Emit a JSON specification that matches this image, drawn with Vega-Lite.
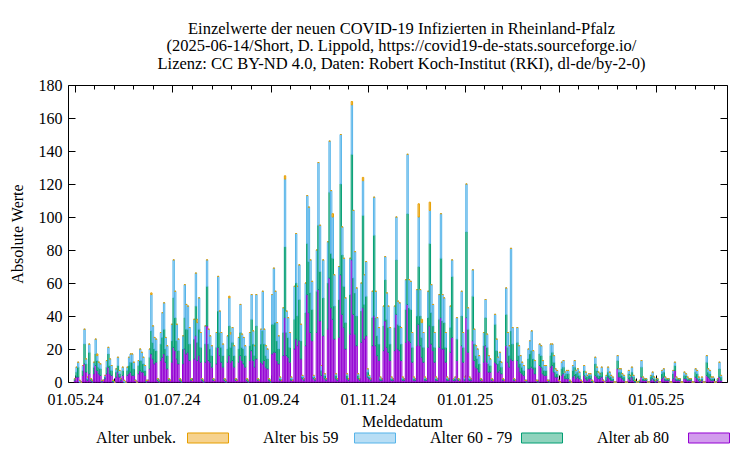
{
"$schema":"https://vega.github.io/schema/vega-lite/v6.json",
"width":659,"height":297,
"autosize":{"type":"none"},
"padding":{"left":68,"top":85,"right":23,"bottom":68},
"background":"white",
"config":{"font":"Liberation Serif","view":{"stroke":"black","strokeWidth":1},
"axis":{"labelFont":"Liberation Serif","titleFont":"Liberation Serif","labelFontSize":16,"titleFontSize":16,"titleFontWeight":"normal","labelColor":"black","titleColor":"black","tickColor":"black","grid":false,"domain":false}},
"title":{"text":["Einzelwerte der neuen COVID-19 Infizierten in Rheinland-Pfalz","(2025-06-14/Short, D. Lippold, https://covid19-de-stats.sourceforge.io/","Lizenz: CC BY-ND 4.0, Daten: Robert Koch-Institut (RKI), dl-de/by-2-0)"],"fontSize":16.5,"fontWeight":"normal","font":"Liberation Serif","anchor":"middle","frame":"group","offset":5,"lineHeight":17.5,"color":"black","dx":4},
"data":{"values":[
{"d":"2024-05-01","k1":1,"k2":1,"k3":0,"k4":0},
{"d":"2024-05-02","k1":3,"k2":3,"k3":3,"k4":0},
{"d":"2024-05-03","k1":3,"k2":6,"k3":3,"k4":0},
{"d":"2024-05-04","k1":0,"k2":0,"k3":1,"k4":0},
{"d":"2024-05-05","k1":0,"k2":0,"k3":0,"k4":0},
{"d":"2024-05-06","k1":4,"k2":3,"k3":3,"k4":0},
{"d":"2024-05-07","k1":11,"k2":12,"k3":9,"k4":0},
{"d":"2024-05-08","k1":6,"k2":5,"k3":3,"k4":0},
{"d":"2024-05-09","k1":1,"k2":1,"k3":1,"k4":0},
{"d":"2024-05-10","k1":5,"k2":13,"k3":5,"k4":0},
{"d":"2024-05-11","k1":1,"k2":1,"k3":0,"k4":0},
{"d":"2024-05-12","k1":0,"k2":1,"k3":0,"k4":0},
{"d":"2024-05-13","k1":5,"k2":4,"k3":3,"k4":0},
{"d":"2024-05-14","k1":10,"k2":7,"k3":9,"k4":0},
{"d":"2024-05-15","k1":7,"k2":6,"k3":3,"k4":1},
{"d":"2024-05-16","k1":5,"k2":4,"k3":3,"k4":0},
{"d":"2024-05-17","k1":4,"k2":4,"k3":3,"k4":0},
{"d":"2024-05-18","k1":0,"k2":1,"k3":0,"k4":0},
{"d":"2024-05-19","k1":1,"k2":0,"k3":0,"k4":0},
{"d":"2024-05-20","k1":2,"k2":1,"k3":1,"k4":0},
{"d":"2024-05-21","k1":5,"k2":4,"k3":4,"k4":0},
{"d":"2024-05-22","k1":9,"k2":8,"k3":4,"k4":0},
{"d":"2024-05-23","k1":5,"k2":5,"k3":4,"k4":0},
{"d":"2024-05-24","k1":4,"k2":3,"k3":3,"k4":0},
{"d":"2024-05-25","k1":0,"k2":1,"k3":0,"k4":0},
{"d":"2024-05-26","k1":0,"k2":0,"k3":0,"k4":0},
{"d":"2024-05-27","k1":3,"k2":3,"k3":2,"k4":0},
{"d":"2024-05-28","k1":6,"k2":4,"k3":5,"k4":0},
{"d":"2024-05-29","k1":3,"k2":2,"k3":2,"k4":0},
{"d":"2024-05-30","k1":1,"k2":1,"k3":0,"k4":0},
{"d":"2024-05-31","k1":4,"k2":3,"k3":2,"k4":0},
{"d":"2024-06-01","k1":0,"k2":0,"k3":1,"k4":0},
{"d":"2024-06-02","k1":0,"k2":0,"k3":0,"k4":0},
{"d":"2024-06-03","k1":4,"k2":3,"k3":2,"k4":0},
{"d":"2024-06-04","k1":5,"k2":5,"k3":5,"k4":0},
{"d":"2024-06-05","k1":6,"k2":6,"k3":5,"k4":0},
{"d":"2024-06-06","k1":4,"k2":8,"k3":5,"k4":0},
{"d":"2024-06-07","k1":4,"k2":4,"k3":4,"k4":0},
{"d":"2024-06-08","k1":1,"k2":0,"k3":0,"k4":0},
{"d":"2024-06-09","k1":0,"k2":0,"k3":0,"k4":0},
{"d":"2024-06-10","k1":5,"k2":5,"k3":3,"k4":0},
{"d":"2024-06-11","k1":7,"k2":6,"k3":7,"k4":0},
{"d":"2024-06-12","k1":6,"k2":7,"k3":5,"k4":0},
{"d":"2024-06-13","k1":6,"k2":5,"k3":4,"k4":0},
{"d":"2024-06-14","k1":4,"k2":3,"k3":3,"k4":0},
{"d":"2024-06-15","k1":0,"k2":1,"k3":0,"k4":0},
{"d":"2024-06-16","k1":1,"k2":0,"k3":0,"k4":0},
{"d":"2024-06-17","k1":8,"k2":7,"k3":5,"k4":0},
{"d":"2024-06-18","k1":17,"k2":14,"k3":22,"k4":1},
{"d":"2024-06-19","k1":14,"k2":10,"k3":10,"k4":0},
{"d":"2024-06-20","k1":11,"k2":9,"k3":7,"k4":0},
{"d":"2024-06-21","k1":12,"k2":7,"k3":7,"k4":0},
{"d":"2024-06-22","k1":1,"k2":1,"k3":0,"k4":0},
{"d":"2024-06-23","k1":0,"k2":1,"k3":0,"k4":0},
{"d":"2024-06-24","k1":13,"k2":10,"k3":7,"k4":0},
{"d":"2024-06-25","k1":15,"k2":12,"k3":15,"k4":0},
{"d":"2024-06-26","k1":17,"k2":15,"k3":16,"k4":0},
{"d":"2024-06-27","k1":12,"k2":8,"k3":7,"k4":0},
{"d":"2024-06-28","k1":8,"k2":8,"k3":6,"k4":0},
{"d":"2024-06-29","k1":1,"k2":1,"k3":0,"k4":0},
{"d":"2024-06-30","k1":1,"k2":0,"k3":0,"k4":0},
{"d":"2024-07-01","k1":12,"k2":13,"k3":10,"k4":0},
{"d":"2024-07-02","k1":21,"k2":30,"k3":23,"k4":0},
{"d":"2024-07-03","k1":19,"k2":20,"k3":16,"k4":0},
{"d":"2024-07-04","k1":14,"k2":11,"k3":10,"k4":0},
{"d":"2024-07-05","k1":11,"k2":8,"k3":7,"k4":0},
{"d":"2024-07-06","k1":1,"k2":1,"k3":0,"k4":0},
{"d":"2024-07-07","k1":0,"k2":1,"k3":0,"k4":0},
{"d":"2024-07-08","k1":11,"k2":9,"k3":8,"k4":0},
{"d":"2024-07-09","k1":20,"k2":19,"k3":20,"k4":0},
{"d":"2024-07-10","k1":17,"k2":15,"k3":15,"k4":0},
{"d":"2024-07-11","k1":18,"k2":14,"k3":14,"k4":0},
{"d":"2024-07-12","k1":13,"k2":10,"k3":10,"k4":0},
{"d":"2024-07-13","k1":1,"k2":1,"k3":0,"k4":0},
{"d":"2024-07-14","k1":1,"k2":0,"k3":0,"k4":0},
{"d":"2024-07-15","k1":14,"k2":12,"k3":12,"k4":0},
{"d":"2024-07-16","k1":28,"k2":18,"k3":20,"k4":0},
{"d":"2024-07-17","k1":13,"k2":11,"k3":12,"k4":2},
{"d":"2024-07-18","k1":16,"k2":16,"k3":19,"k4":0},
{"d":"2024-07-19","k1":12,"k2":9,"k3":9,"k4":0},
{"d":"2024-07-20","k1":1,"k2":1,"k3":0,"k4":0},
{"d":"2024-07-21","k1":0,"k2":1,"k3":0,"k4":0},
{"d":"2024-07-22","k1":12,"k2":11,"k3":11,"k4":0},
{"d":"2024-07-23","k1":34,"k2":24,"k3":16,"k4":0},
{"d":"2024-07-24","k1":13,"k2":10,"k3":9,"k4":0},
{"d":"2024-07-25","k1":12,"k2":8,"k3":8,"k4":0},
{"d":"2024-07-26","k1":9,"k2":7,"k3":6,"k4":0},
{"d":"2024-07-27","k1":1,"k2":1,"k3":0,"k4":0},
{"d":"2024-07-28","k1":1,"k2":0,"k3":0,"k4":0},
{"d":"2024-07-29","k1":11,"k2":10,"k3":9,"k4":0},
{"d":"2024-07-30","k1":21,"k2":22,"k3":21,"k4":0},
{"d":"2024-07-31","k1":16,"k2":14,"k3":13,"k4":0},
{"d":"2024-08-01","k1":12,"k2":9,"k3":9,"k4":0},
{"d":"2024-08-02","k1":9,"k2":7,"k3":7,"k4":0},
{"d":"2024-08-03","k1":1,"k2":1,"k3":0,"k4":0},
{"d":"2024-08-04","k1":0,"k2":1,"k3":0,"k4":0},
{"d":"2024-08-05","k1":12,"k2":8,"k3":8,"k4":0},
{"d":"2024-08-06","k1":16,"k2":18,"k3":17,"k4":1},
{"d":"2024-08-07","k1":12,"k2":9,"k3":8,"k4":1},
{"d":"2024-08-08","k1":13,"k2":11,"k3":9,"k4":0},
{"d":"2024-08-09","k1":9,"k2":7,"k3":6,"k4":0},
{"d":"2024-08-10","k1":1,"k2":1,"k3":0,"k4":0},
{"d":"2024-08-11","k1":1,"k2":0,"k3":0,"k4":0},
{"d":"2024-08-12","k1":12,"k2":8,"k3":7,"k4":0},
{"d":"2024-08-13","k1":16,"k2":14,"k3":17,"k4":0},
{"d":"2024-08-14","k1":13,"k2":8,"k3":8,"k4":0},
{"d":"2024-08-15","k1":11,"k2":9,"k3":7,"k4":0},
{"d":"2024-08-16","k1":9,"k2":7,"k3":6,"k4":0},
{"d":"2024-08-17","k1":1,"k2":1,"k3":0,"k4":0},
{"d":"2024-08-18","k1":0,"k2":1,"k3":0,"k4":0},
{"d":"2024-08-19","k1":13,"k2":9,"k3":8,"k4":0},
{"d":"2024-08-20","k1":19,"k2":19,"k3":15,"k4":0},
{"d":"2024-08-21","k1":13,"k2":10,"k3":8,"k4":0},
{"d":"2024-08-22","k1":9,"k2":7,"k3":6,"k4":0},
{"d":"2024-08-23","k1":14,"k2":20,"k3":19,"k4":0},
{"d":"2024-08-24","k1":1,"k2":1,"k3":0,"k4":0},
{"d":"2024-08-25","k1":1,"k2":0,"k3":0,"k4":0},
{"d":"2024-08-26","k1":12,"k2":11,"k3":9,"k4":0},
{"d":"2024-08-27","k1":11,"k2":20,"k3":24,"k4":0},
{"d":"2024-08-28","k1":13,"k2":10,"k3":9,"k4":0},
{"d":"2024-08-29","k1":9,"k2":7,"k3":6,"k4":0},
{"d":"2024-08-30","k1":8,"k2":6,"k3":6,"k4":0},
{"d":"2024-08-31","k1":1,"k2":1,"k3":0,"k4":0},
{"d":"2024-09-01","k1":0,"k2":1,"k3":0,"k4":0},
{"d":"2024-09-02","k1":17,"k2":18,"k3":18,"k4":0},
{"d":"2024-09-03","k1":18,"k2":17,"k3":34,"k4":0},
{"d":"2024-09-04","k1":18,"k2":18,"k3":19,"k4":0},
{"d":"2024-09-05","k1":13,"k2":12,"k3":11,"k4":0},
{"d":"2024-09-06","k1":11,"k2":9,"k3":8,"k4":0},
{"d":"2024-09-07","k1":1,"k2":1,"k3":1,"k4":0},
{"d":"2024-09-08","k1":1,"k2":0,"k3":0,"k4":0},
{"d":"2024-09-09","k1":16,"k2":14,"k3":15,"k4":0},
{"d":"2024-09-10","k1":39,"k2":43,"k3":41,"k4":2},
{"d":"2024-09-11","k1":16,"k2":14,"k3":13,"k4":0},
{"d":"2024-09-12","k1":15,"k2":12,"k3":12,"k4":0},
{"d":"2024-09-13","k1":12,"k2":9,"k3":9,"k4":0},
{"d":"2024-09-14","k1":1,"k2":1,"k3":1,"k4":0},
{"d":"2024-09-15","k1":1,"k2":0,"k3":0,"k4":0},
{"d":"2024-09-16","k1":20,"k2":18,"k3":20,"k4":0},
{"d":"2024-09-17","k1":26,"k2":34,"k3":30,"k4":0},
{"d":"2024-09-18","k1":22,"k2":18,"k3":18,"k4":0},
{"d":"2024-09-19","k1":25,"k2":25,"k3":21,"k4":0},
{"d":"2024-09-20","k1":14,"k2":11,"k3":10,"k4":0},
{"d":"2024-09-21","k1":2,"k2":1,"k3":1,"k4":0},
{"d":"2024-09-22","k1":1,"k2":1,"k3":0,"k4":0},
{"d":"2024-09-23","k1":22,"k2":20,"k3":18,"k4":0},
{"d":"2024-09-24","k1":53,"k2":31,"k3":29,"k4":0},
{"d":"2024-09-25","k1":42,"k2":31,"k3":33,"k4":0},
{"d":"2024-09-26","k1":30,"k2":24,"k3":20,"k4":0},
{"d":"2024-09-27","k1":25,"k2":19,"k3":17,"k4":0},
{"d":"2024-09-28","k1":2,"k2":1,"k3":1,"k4":0},
{"d":"2024-09-29","k1":1,"k2":1,"k3":0,"k4":0},
{"d":"2024-09-30","k1":30,"k2":25,"k3":25,"k4":0},
{"d":"2024-10-01","k1":56,"k2":39,"k3":38,"k4":0},
{"d":"2024-10-02","k1":37,"k2":30,"k3":28,"k4":0},
{"d":"2024-10-03","k1":4,"k2":3,"k3":3,"k4":0},
{"d":"2024-10-04","k1":28,"k2":23,"k3":23,"k4":0},
{"d":"2024-10-05","k1":2,"k2":2,"k3":1,"k4":0},
{"d":"2024-10-06","k1":1,"k2":1,"k3":0,"k4":0},
{"d":"2024-10-07","k1":32,"k2":28,"k3":25,"k4":0},
{"d":"2024-10-08","k1":63,"k2":52,"k3":31,"k4":0},
{"d":"2024-10-09","k1":45,"k2":33,"k3":38,"k4":0},
{"d":"2024-10-10","k1":38,"k2":37,"k3":25,"k4":2},
{"d":"2024-10-11","k1":26,"k2":20,"k3":19,"k4":0},
{"d":"2024-10-12","k1":2,"k2":2,"k3":1,"k4":0},
{"d":"2024-10-13","k1":1,"k2":1,"k3":0,"k4":0},
{"d":"2024-10-14","k1":27,"k2":23,"k3":20,"k4":0},
{"d":"2024-10-15","k1":65,"k2":55,"k3":30,"k4":0},
{"d":"2024-10-16","k1":41,"k2":36,"k3":17,"k4":0},
{"d":"2024-10-17","k1":33,"k2":25,"k3":17,"k4":0},
{"d":"2024-10-18","k1":20,"k2":16,"k3":15,"k4":0},
{"d":"2024-10-19","k1":2,"k2":2,"k3":1,"k4":0},
{"d":"2024-10-20","k1":1,"k2":1,"k3":0,"k4":0},
{"d":"2024-10-21","k1":29,"k2":24,"k3":22,"k4":0},
{"d":"2024-10-22","k1":74,"k2":64,"k3":30,"k4":2},
{"d":"2024-10-23","k1":41,"k2":22,"k3":41,"k4":0},
{"d":"2024-10-24","k1":29,"k2":25,"k3":25,"k4":0},
{"d":"2024-10-25","k1":22,"k2":18,"k3":17,"k4":0},
{"d":"2024-10-26","k1":2,"k2":2,"k3":1,"k4":0},
{"d":"2024-10-27","k1":1,"k2":1,"k3":0,"k4":0},
{"d":"2024-10-28","k1":24,"k2":19,"k3":17,"k4":0},
{"d":"2024-10-29","k1":45,"k2":56,"k3":21,"k4":2},
{"d":"2024-10-30","k1":26,"k2":21,"k3":18,"k4":0},
{"d":"2024-10-31","k1":28,"k2":24,"k3":21,"k4":0},
{"d":"2024-11-01","k1":3,"k2":3,"k3":2,"k4":0},
{"d":"2024-11-02","k1":2,"k2":1,"k3":1,"k4":0},
{"d":"2024-11-03","k1":1,"k2":1,"k3":0,"k4":0},
{"d":"2024-11-04","k1":22,"k2":17,"k3":16,"k4":0},
{"d":"2024-11-05","k1":40,"k2":49,"k3":23,"k4":0},
{"d":"2024-11-06","k1":22,"k2":17,"k3":16,"k4":0},
{"d":"2024-11-07","k1":16,"k2":12,"k3":11,"k4":0},
{"d":"2024-11-08","k1":13,"k2":10,"k3":10,"k4":0},
{"d":"2024-11-09","k1":1,"k2":1,"k3":1,"k4":0},
{"d":"2024-11-10","k1":1,"k2":1,"k3":0,"k4":0},
{"d":"2024-11-11","k1":19,"k2":15,"k3":12,"k4":0},
{"d":"2024-11-12","k1":37,"k2":25,"k3":14,"k4":0},
{"d":"2024-11-13","k1":21,"k2":17,"k3":16,"k4":0},
{"d":"2024-11-14","k1":18,"k2":15,"k3":13,"k4":0},
{"d":"2024-11-15","k1":13,"k2":10,"k3":10,"k4":0},
{"d":"2024-11-16","k1":1,"k2":1,"k3":1,"k4":0},
{"d":"2024-11-17","k1":1,"k2":1,"k3":0,"k4":0},
{"d":"2024-11-18","k1":19,"k2":14,"k3":13,"k4":0},
{"d":"2024-11-19","k1":41,"k2":33,"k3":26,"k4":0},
{"d":"2024-11-20","k1":20,"k2":15,"k3":14,"k4":0},
{"d":"2024-11-21","k1":19,"k2":15,"k3":14,"k4":0},
{"d":"2024-11-22","k1":13,"k2":10,"k3":10,"k4":0},
{"d":"2024-11-23","k1":1,"k2":1,"k3":1,"k4":0},
{"d":"2024-11-24","k1":1,"k2":1,"k3":0,"k4":0},
{"d":"2024-11-25","k1":24,"k2":20,"k3":18,"k4":0},
{"d":"2024-11-26","k1":47,"k2":55,"k3":36,"k4":0},
{"d":"2024-11-27","k1":25,"k2":20,"k3":17,"k4":0},
{"d":"2024-11-28","k1":24,"k2":20,"k3":17,"k4":0},
{"d":"2024-11-29","k1":12,"k2":9,"k3":9,"k4":0},
{"d":"2024-11-30","k1":1,"k2":1,"k3":1,"k4":0},
{"d":"2024-12-01","k1":1,"k2":1,"k3":0,"k4":0},
{"d":"2024-12-02","k1":22,"k2":18,"k3":16,"k4":0},
{"d":"2024-12-03","k1":35,"k2":35,"k3":30,"k4":8},
{"d":"2024-12-04","k1":22,"k2":18,"k3":16,"k4":0},
{"d":"2024-12-05","k1":15,"k2":12,"k3":9,"k4":2},
{"d":"2024-12-06","k1":12,"k2":9,"k3":9,"k4":0},
{"d":"2024-12-07","k1":1,"k2":1,"k3":1,"k4":0},
{"d":"2024-12-08","k1":1,"k2":1,"k3":0,"k4":0},
{"d":"2024-12-09","k1":21,"k2":18,"k3":16,"k4":0},
{"d":"2024-12-10","k1":34,"k2":50,"k3":20,"k4":5},
{"d":"2024-12-11","k1":23,"k2":19,"k3":17,"k4":0},
{"d":"2024-12-12","k1":19,"k2":15,"k3":13,"k4":0},
{"d":"2024-12-13","k1":12,"k2":9,"k3":9,"k4":0},
{"d":"2024-12-14","k1":1,"k2":1,"k3":1,"k4":0},
{"d":"2024-12-15","k1":1,"k2":1,"k3":0,"k4":0},
{"d":"2024-12-16","k1":21,"k2":17,"k3":15,"k4":0},
{"d":"2024-12-17","k1":39,"k2":36,"k3":27,"k4":0},
{"d":"2024-12-18","k1":20,"k2":17,"k3":16,"k4":0},
{"d":"2024-12-19","k1":20,"k2":16,"k3":15,"k4":0},
{"d":"2024-12-20","k1":12,"k2":9,"k3":9,"k4":0},
{"d":"2024-12-21","k1":1,"k2":1,"k3":1,"k4":0},
{"d":"2024-12-22","k1":1,"k2":1,"k3":0,"k4":0},
{"d":"2024-12-23","k1":18,"k2":15,"k3":13,"k4":0},
{"d":"2024-12-24","k1":27,"k2":37,"k3":10,"k4":0},
{"d":"2024-12-25","k1":1,"k2":1,"k3":0,"k4":0},
{"d":"2024-12-26","k1":1,"k2":1,"k3":1,"k4":0},
{"d":"2024-12-27","k1":13,"k2":13,"k3":13,"k4":0},
{"d":"2024-12-28","k1":1,"k2":1,"k3":0,"k4":0},
{"d":"2024-12-29","k1":1,"k2":0,"k3":0,"k4":0},
{"d":"2024-12-30","k1":22,"k2":18,"k3":15,"k4":0},
{"d":"2024-12-31","k1":12,"k2":9,"k3":9,"k4":0},
{"d":"2025-01-01","k1":1,"k2":1,"k3":1,"k4":0},
{"d":"2025-01-02","k1":39,"k2":52,"k3":29,"k4":0},
{"d":"2025-01-03","k1":18,"k2":14,"k3":13,"k4":0},
{"d":"2025-01-04","k1":1,"k2":1,"k3":1,"k4":0},
{"d":"2025-01-05","k1":1,"k2":1,"k3":0,"k4":0},
{"d":"2025-01-06","k1":25,"k2":27,"k3":16,"k4":0},
{"d":"2025-01-07","k1":13,"k2":10,"k3":9,"k4":0},
{"d":"2025-01-08","k1":9,"k2":7,"k3":6,"k4":0},
{"d":"2025-01-09","k1":8,"k2":6,"k3":6,"k4":0},
{"d":"2025-01-10","k1":6,"k2":5,"k3":5,"k4":0},
{"d":"2025-01-11","k1":1,"k2":1,"k3":0,"k4":0},
{"d":"2025-01-12","k1":1,"k2":0,"k3":0,"k4":0},
{"d":"2025-01-13","k1":12,"k2":10,"k3":8,"k4":0},
{"d":"2025-01-14","k1":22,"k2":17,"k3":11,"k4":0},
{"d":"2025-01-15","k1":12,"k2":9,"k3":8,"k4":0},
{"d":"2025-01-16","k1":6,"k2":5,"k3":5,"k4":0},
{"d":"2025-01-17","k1":6,"k2":4,"k3":4,"k4":0},
{"d":"2025-01-18","k1":1,"k2":1,"k3":0,"k4":0},
{"d":"2025-01-19","k1":1,"k2":0,"k3":0,"k4":0},
{"d":"2025-01-20","k1":12,"k2":23,"k3":6,"k4":0},
{"d":"2025-01-21","k1":11,"k2":8,"k3":7,"k4":0},
{"d":"2025-01-22","k1":6,"k2":5,"k3":4,"k4":0},
{"d":"2025-01-23","k1":7,"k2":6,"k3":5,"k4":0},
{"d":"2025-01-24","k1":5,"k2":4,"k3":3,"k4":0},
{"d":"2025-01-25","k1":1,"k2":1,"k3":0,"k4":0},
{"d":"2025-01-26","k1":1,"k2":0,"k3":0,"k4":0},
{"d":"2025-01-27","k1":22,"k2":19,"k3":16,"k4":0},
{"d":"2025-01-28","k1":12,"k2":9,"k3":9,"k4":0},
{"d":"2025-01-29","k1":9,"k2":7,"k3":6,"k4":0},
{"d":"2025-01-30","k1":14,"k2":17,"k3":50,"k4":0},
{"d":"2025-01-31","k1":13,"k2":10,"k3":10,"k4":0},
{"d":"2025-02-01","k1":1,"k2":1,"k3":0,"k4":0},
{"d":"2025-02-02","k1":1,"k2":0,"k3":0,"k4":0},
{"d":"2025-02-03","k1":13,"k2":11,"k3":9,"k4":0},
{"d":"2025-02-04","k1":9,"k2":7,"k3":6,"k4":0},
{"d":"2025-02-05","k1":6,"k2":5,"k3":5,"k4":0},
{"d":"2025-02-06","k1":5,"k2":4,"k3":3,"k4":0},
{"d":"2025-02-07","k1":4,"k2":3,"k3":3,"k4":0},
{"d":"2025-02-08","k1":1,"k2":0,"k3":0,"k4":0},
{"d":"2025-02-09","k1":0,"k2":1,"k3":0,"k4":0},
{"d":"2025-02-10","k1":8,"k2":6,"k3":6,"k4":0},
{"d":"2025-02-11","k1":8,"k2":9,"k3":8,"k4":0},
{"d":"2025-02-12","k1":9,"k2":10,"k3":12,"k4":0},
{"d":"2025-02-13","k1":8,"k2":6,"k3":5,"k4":0},
{"d":"2025-02-14","k1":5,"k2":4,"k3":4,"k4":0},
{"d":"2025-02-15","k1":1,"k2":0,"k3":0,"k4":0},
{"d":"2025-02-16","k1":0,"k2":1,"k3":0,"k4":0},
{"d":"2025-02-17","k1":10,"k2":7,"k3":6,"k4":0},
{"d":"2025-02-18","k1":9,"k2":7,"k3":6,"k4":0},
{"d":"2025-02-19","k1":5,"k2":4,"k3":4,"k4":0},
{"d":"2025-02-20","k1":4,"k2":3,"k3":3,"k4":0},
{"d":"2025-02-21","k1":4,"k2":3,"k3":3,"k4":0},
{"d":"2025-02-22","k1":1,"k2":0,"k3":0,"k4":0},
{"d":"2025-02-23","k1":0,"k2":1,"k3":0,"k4":0},
{"d":"2025-02-24","k1":9,"k2":7,"k3":7,"k4":0},
{"d":"2025-02-25","k1":10,"k2":8,"k3":5,"k4":0},
{"d":"2025-02-26","k1":6,"k2":6,"k3":4,"k4":0},
{"d":"2025-02-27","k1":3,"k2":3,"k3":2,"k4":0},
{"d":"2025-02-28","k1":3,"k2":2,"k3":2,"k4":0},
{"d":"2025-03-01","k1":1,"k2":0,"k3":0,"k4":0},
{"d":"2025-03-02","k1":0,"k2":0,"k3":0,"k4":0},
{"d":"2025-03-03","k1":4,"k2":4,"k3":4,"k4":0},
{"d":"2025-03-04","k1":5,"k2":4,"k3":4,"k4":0},
{"d":"2025-03-05","k1":2,"k2":2,"k3":2,"k4":0},
{"d":"2025-03-06","k1":2,"k2":3,"k3":2,"k4":0},
{"d":"2025-03-07","k1":2,"k2":3,"k3":2,"k4":0},
{"d":"2025-03-08","k1":0,"k2":1,"k3":0,"k4":0},
{"d":"2025-03-09","k1":0,"k2":0,"k3":0,"k4":0},
{"d":"2025-03-10","k1":3,"k2":4,"k3":3,"k4":0},
{"d":"2025-03-11","k1":4,"k2":5,"k3":4,"k4":0},
{"d":"2025-03-12","k1":2,"k2":3,"k3":2,"k4":0},
{"d":"2025-03-13","k1":3,"k2":3,"k3":2,"k4":0},
{"d":"2025-03-14","k1":2,"k2":2,"k3":2,"k4":0},
{"d":"2025-03-15","k1":1,"k2":0,"k3":0,"k4":0},
{"d":"2025-03-16","k1":0,"k2":0,"k3":0,"k4":0},
{"d":"2025-03-17","k1":4,"k2":3,"k3":3,"k4":0},
{"d":"2025-03-18","k1":2,"k2":2,"k3":2,"k4":0},
{"d":"2025-03-19","k1":1,"k2":2,"k3":1,"k4":0},
{"d":"2025-03-20","k1":2,"k2":2,"k3":1,"k4":0},
{"d":"2025-03-21","k1":2,"k2":2,"k3":1,"k4":0},
{"d":"2025-03-22","k1":0,"k2":1,"k3":0,"k4":0},
{"d":"2025-03-23","k1":0,"k2":0,"k3":0,"k4":0},
{"d":"2025-03-24","k1":4,"k2":7,"k3":4,"k4":0},
{"d":"2025-03-25","k1":3,"k2":4,"k3":2,"k4":0},
{"d":"2025-03-26","k1":2,"k2":2,"k3":2,"k4":0},
{"d":"2025-03-27","k1":2,"k2":2,"k3":1,"k4":0},
{"d":"2025-03-28","k1":3,"k2":3,"k3":3,"k4":0},
{"d":"2025-03-29","k1":1,"k2":0,"k3":0,"k4":0},
{"d":"2025-03-30","k1":0,"k2":0,"k3":0,"k4":0},
{"d":"2025-03-31","k1":1,"k2":2,"k3":1,"k4":0},
{"d":"2025-04-01","k1":3,"k2":3,"k3":3,"k4":0},
{"d":"2025-04-02","k1":2,"k2":2,"k3":2,"k4":0},
{"d":"2025-04-03","k1":1,"k2":2,"k3":1,"k4":0},
{"d":"2025-04-04","k1":1,"k2":1,"k3":1,"k4":0},
{"d":"2025-04-05","k1":0,"k2":0,"k3":0,"k4":0},
{"d":"2025-04-06","k1":0,"k2":0,"k3":0,"k4":0},
{"d":"2025-04-07","k1":8,"k2":5,"k3":3,"k4":0},
{"d":"2025-04-08","k1":3,"k2":3,"k3":2,"k4":0},
{"d":"2025-04-09","k1":3,"k2":3,"k3":2,"k4":0},
{"d":"2025-04-10","k1":2,"k2":2,"k3":1,"k4":0},
{"d":"2025-04-11","k1":1,"k2":2,"k3":1,"k4":0},
{"d":"2025-04-12","k1":0,"k2":0,"k3":0,"k4":0},
{"d":"2025-04-13","k1":0,"k2":0,"k3":0,"k4":0},
{"d":"2025-04-14","k1":2,"k2":3,"k3":2,"k4":0},
{"d":"2025-04-15","k1":1,"k2":2,"k3":1,"k4":0},
{"d":"2025-04-16","k1":3,"k2":3,"k3":3,"k4":0},
{"d":"2025-04-17","k1":1,"k2":2,"k3":1,"k4":0},
{"d":"2025-04-18","k1":0,"k2":1,"k3":0,"k4":0},
{"d":"2025-04-19","k1":0,"k2":0,"k3":0,"k4":0},
{"d":"2025-04-20","k1":0,"k2":0,"k3":0,"k4":0},
{"d":"2025-04-21","k1":0,"k2":1,"k3":0,"k4":0},
{"d":"2025-04-22","k1":3,"k2":6,"k3":4,"k4":0},
{"d":"2025-04-23","k1":1,"k2":1,"k3":1,"k4":0},
{"d":"2025-04-24","k1":1,"k2":1,"k3":0,"k4":0},
{"d":"2025-04-25","k1":1,"k2":1,"k3":0,"k4":0},
{"d":"2025-04-26","k1":0,"k2":0,"k3":0,"k4":0},
{"d":"2025-04-27","k1":0,"k2":0,"k3":0,"k4":0},
{"d":"2025-04-28","k1":1,"k2":2,"k3":1,"k4":0},
{"d":"2025-04-29","k1":2,"k2":2,"k3":2,"k4":0},
{"d":"2025-04-30","k1":1,"k2":1,"k3":1,"k4":0},
{"d":"2025-05-01","k1":0,"k2":1,"k3":0,"k4":0},
{"d":"2025-05-02","k1":1,"k2":1,"k3":0,"k4":0},
{"d":"2025-05-03","k1":0,"k2":0,"k3":0,"k4":0},
{"d":"2025-05-04","k1":0,"k2":0,"k3":0,"k4":0},
{"d":"2025-05-05","k1":2,"k2":3,"k3":2,"k4":0},
{"d":"2025-05-06","k1":3,"k2":3,"k3":2,"k4":0},
{"d":"2025-05-07","k1":1,"k2":1,"k3":1,"k4":0},
{"d":"2025-05-08","k1":1,"k2":1,"k3":0,"k4":0},
{"d":"2025-05-09","k1":1,"k2":1,"k3":0,"k4":0},
{"d":"2025-05-10","k1":0,"k2":0,"k3":0,"k4":0},
{"d":"2025-05-11","k1":0,"k2":0,"k3":0,"k4":0},
{"d":"2025-05-12","k1":2,"k2":3,"k3":2,"k4":0},
{"d":"2025-05-13","k1":7,"k2":3,"k3":2,"k4":0},
{"d":"2025-05-14","k1":1,"k2":1,"k3":1,"k4":0},
{"d":"2025-05-15","k1":1,"k2":1,"k3":0,"k4":0},
{"d":"2025-05-16","k1":1,"k2":1,"k3":0,"k4":0},
{"d":"2025-05-17","k1":0,"k2":0,"k3":0,"k4":0},
{"d":"2025-05-18","k1":0,"k2":0,"k3":0,"k4":0},
{"d":"2025-05-19","k1":2,"k2":2,"k3":2,"k4":0},
{"d":"2025-05-20","k1":2,"k2":2,"k3":1,"k4":0},
{"d":"2025-05-21","k1":1,"k2":1,"k3":1,"k4":0},
{"d":"2025-05-22","k1":1,"k2":1,"k3":0,"k4":0},
{"d":"2025-05-23","k1":1,"k2":1,"k3":0,"k4":0},
{"d":"2025-05-24","k1":0,"k2":0,"k3":0,"k4":0},
{"d":"2025-05-25","k1":0,"k2":0,"k3":0,"k4":0},
{"d":"2025-05-26","k1":3,"k2":3,"k3":2,"k4":0},
{"d":"2025-05-27","k1":2,"k2":3,"k3":2,"k4":0},
{"d":"2025-05-28","k1":1,"k2":1,"k3":1,"k4":0},
{"d":"2025-05-29","k1":0,"k2":1,"k3":0,"k4":0},
{"d":"2025-05-30","k1":1,"k2":1,"k3":1,"k4":0},
{"d":"2025-05-31","k1":0,"k2":0,"k3":0,"k4":0},
{"d":"2025-06-01","k1":0,"k2":0,"k3":0,"k4":0},
{"d":"2025-06-02","k1":4,"k2":8,"k3":4,"k4":0},
{"d":"2025-06-03","k1":3,"k2":3,"k3":2,"k4":0},
{"d":"2025-06-04","k1":2,"k2":3,"k3":2,"k4":0},
{"d":"2025-06-05","k1":1,"k2":1,"k3":1,"k4":0},
{"d":"2025-06-06","k1":1,"k2":1,"k3":1,"k4":0},
{"d":"2025-06-07","k1":0,"k2":0,"k3":0,"k4":0},
{"d":"2025-06-08","k1":0,"k2":0,"k3":0,"k4":0},
{"d":"2025-06-09","k1":1,"k2":1,"k3":0,"k4":0},
{"d":"2025-06-10","k1":3,"k2":5,"k3":4,"k4":0},
{"d":"2025-06-11","k1":1,"k2":2,"k3":1,"k4":0}
]},
"transform":[{"fold":["k1","k2","k3","k4"],"as":["g","v"]}],
"layer":[
{"mark":{"type":"bar","width":1.4,"strokeWidth":1,"opacity":1},
"encoding":{
"x":{"field":"d","type":"temporal","scale":{"type":"utc","domain":[{"year":2024,"month":4,"date":29,"hours":18,"utc":true},{"year":2025,"month":6,"date":11,"hours":14,"utc":true}]},
"axis":{"orient":"bottom","values":[
{"year":2024,"month":5,"date":1,"utc":true},{"year":2024,"month":5,"date":13,"hours":5,"utc":true},{"year":2024,"month":5,"date":25,"hours":10,"utc":true},{"year":2024,"month":6,"date":6,"hours":14,"utc":true},{"year":2024,"month":6,"date":18,"hours":19,"utc":true},
{"year":2024,"month":7,"date":1,"utc":true},{"year":2024,"month":7,"date":13,"hours":10,"utc":true},{"year":2024,"month":7,"date":25,"hours":19,"utc":true},{"year":2024,"month":8,"date":7,"hours":5,"utc":true},{"year":2024,"month":8,"date":19,"hours":14,"utc":true},
{"year":2024,"month":9,"date":1,"utc":true},{"year":2024,"month":9,"date":13,"hours":5,"utc":true},{"year":2024,"month":9,"date":25,"hours":10,"utc":true},{"year":2024,"month":10,"date":7,"hours":14,"utc":true},{"year":2024,"month":10,"date":19,"hours":19,"utc":true},
{"year":2024,"month":11,"date":1,"utc":true},{"year":2024,"month":11,"date":13,"hours":5,"utc":true},{"year":2024,"month":11,"date":25,"hours":10,"utc":true},{"year":2024,"month":12,"date":7,"hours":14,"utc":true},{"year":2024,"month":12,"date":19,"hours":19,"utc":true},
{"year":2025,"month":1,"date":1,"utc":true},{"year":2025,"month":1,"date":12,"hours":19,"utc":true},{"year":2025,"month":1,"date":24,"hours":14,"utc":true},{"year":2025,"month":2,"date":5,"hours":10,"utc":true},{"year":2025,"month":2,"date":17,"hours":5,"utc":true},
{"year":2025,"month":3,"date":1,"utc":true},{"year":2025,"month":3,"date":13,"hours":5,"utc":true},{"year":2025,"month":3,"date":25,"hours":10,"utc":true},{"year":2025,"month":4,"date":6,"hours":14,"utc":true},{"year":2025,"month":4,"date":18,"hours":19,"utc":true},
{"year":2025,"month":5,"date":1,"utc":true},{"year":2025,"month":5,"date":13,"hours":5,"utc":true},{"year":2025,"month":5,"date":25,"hours":10,"utc":true},{"year":2025,"month":6,"date":6,"hours":14,"utc":true}],
"labelExpr":"utcdate(datum.value)==1 && utchours(datum.value)==0 ? utcFormat(datum.value,'%d.%m.%y') : ''",
"tickSize":{"condition":{"test":"utcdate(datum.value)==1 && utchours(datum.value)==0","value":-7},"value":-4},
"labelPadding":16,"labelFlush":false,"labelOverlap":false,"labelBound":false,
"title":"Meldedatum","titleX":334,"titleY":39,"titleBaseline":"middle","titleAlign":"center"}},
"y":{"field":"v","type":"quantitative","stack":"zero","scale":{"domain":[0,180]},
"axis":{"orient":"left","values":[0,20,40,60,80,100,120,140,160,180],"tickSize":-7,"labelPadding":13,"title":"Absolute Werte","titleX":-51,"titleY":148.5,"titleAngle":-90,"titleBaseline":"middle","titleAlign":"center"}},
"color":{"field":"g","type":"nominal","scale":{"domain":["k4","k3","k2","k1"],"range":["#f6d28e","#b8def5","#8fd3bd","#d29ced"]},
"legend":{"orient":"none","legendX":119,"legendY":332,"direction":"horizontal","columns":4,"title":null,"symbolType":"M-1,-0.244H1V0.244H-1Z","symbolSize":1681,"symbolStrokeWidth":1,"symbolOpacity":1,"labelAlign":"left","labelOffset":-133,"labelFontSize":16,"labelFont":"Liberation Serif","labelColor":"black","columnPadding":32,"gridAlign":"all","labelLimit":300,"padding":0,"labelExpr":"{'k4':'Alter unbek.','k3':'Alter bis 59','k2':'Alter 60 - 79','k1':'Alter ab 80'}[datum.value]"}},
"stroke":{"field":"g","type":"nominal","scale":{"domain":["k4","k3","k2","k1"],"range":["#e69f00","#56b4e9","#009e73","#9400d3"]},
"legend":{"orient":"none","legendX":119,"legendY":332,"direction":"horizontal","columns":4,"title":null,"symbolType":"M-1,-0.244H1V0.244H-1Z","symbolSize":1681,"symbolStrokeWidth":1,"symbolOpacity":1,"labelAlign":"left","labelOffset":-133,"labelFontSize":16,"labelFont":"Liberation Serif","labelColor":"black","columnPadding":32,"gridAlign":"all","labelLimit":300,"padding":0,"labelExpr":"{'k4':'Alter unbek.','k3':'Alter bis 59','k2':'Alter 60 - 79','k1':'Alter ab 80'}[datum.value]"}},
"order":{"field":"g","type":"nominal","sort":"ascending"}
}},
{"mark":{"type":"point","opacity":0},
"encoding":{
"x":{"field":"d","type":"temporal","scale":{"type":"utc","domain":[{"year":2024,"month":4,"date":29,"hours":18,"utc":true},{"year":2025,"month":6,"date":11,"hours":14,"utc":true}]},
"axis":{"orient":"top","values":[
{"year":2024,"month":5,"date":1,"utc":true},{"year":2024,"month":5,"date":13,"hours":5,"utc":true},{"year":2024,"month":5,"date":25,"hours":10,"utc":true},{"year":2024,"month":6,"date":6,"hours":14,"utc":true},{"year":2024,"month":6,"date":18,"hours":19,"utc":true},
{"year":2024,"month":7,"date":1,"utc":true},{"year":2024,"month":7,"date":13,"hours":10,"utc":true},{"year":2024,"month":7,"date":25,"hours":19,"utc":true},{"year":2024,"month":8,"date":7,"hours":5,"utc":true},{"year":2024,"month":8,"date":19,"hours":14,"utc":true},
{"year":2024,"month":9,"date":1,"utc":true},{"year":2024,"month":9,"date":13,"hours":5,"utc":true},{"year":2024,"month":9,"date":25,"hours":10,"utc":true},{"year":2024,"month":10,"date":7,"hours":14,"utc":true},{"year":2024,"month":10,"date":19,"hours":19,"utc":true},
{"year":2024,"month":11,"date":1,"utc":true},{"year":2024,"month":11,"date":13,"hours":5,"utc":true},{"year":2024,"month":11,"date":25,"hours":10,"utc":true},{"year":2024,"month":12,"date":7,"hours":14,"utc":true},{"year":2024,"month":12,"date":19,"hours":19,"utc":true},
{"year":2025,"month":1,"date":1,"utc":true},{"year":2025,"month":1,"date":12,"hours":19,"utc":true},{"year":2025,"month":1,"date":24,"hours":14,"utc":true},{"year":2025,"month":2,"date":5,"hours":10,"utc":true},{"year":2025,"month":2,"date":17,"hours":5,"utc":true},
{"year":2025,"month":3,"date":1,"utc":true},{"year":2025,"month":3,"date":13,"hours":5,"utc":true},{"year":2025,"month":3,"date":25,"hours":10,"utc":true},{"year":2025,"month":4,"date":6,"hours":14,"utc":true},{"year":2025,"month":4,"date":18,"hours":19,"utc":true},
{"year":2025,"month":5,"date":1,"utc":true},{"year":2025,"month":5,"date":13,"hours":5,"utc":true},{"year":2025,"month":5,"date":25,"hours":10,"utc":true},{"year":2025,"month":6,"date":6,"hours":14,"utc":true}],
"labels":false,"title":null,
"tickSize":{"condition":{"test":"utcdate(datum.value)==1 && utchours(datum.value)==0","value":-7},"value":-4}}},
"y":{"field":"v","type":"quantitative","scale":{"domain":[0,180]},
"axis":{"orient":"right","values":[0,20,40,60,80,100,120,140,160,180],"tickSize":-7,"labels":false,"title":null}}
}}
],
"resolve":{"axis":{"x":"independent","y":"independent"}}
}
